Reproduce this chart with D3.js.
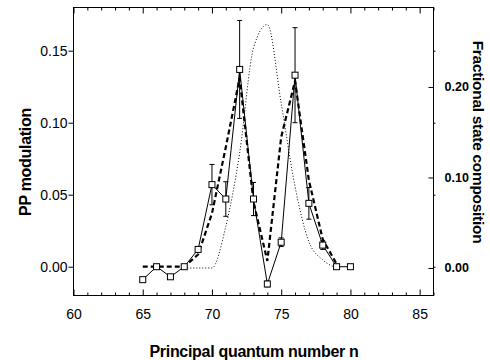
<!DOCTYPE html>
<html>
<head>
<meta charset="utf-8">
<script src="https://cdn.jsdelivr.net/npm/d3@7"></script>
<style>
    body { margin: 0; background: #fff; }
    text { font-family: "Liberation Sans", Arial, sans-serif; fill: #000; }
</style>
</head>
<body>
<svg id="chart" width="490" height="360"></svg>
<script>
// measured PP modulation (left axis) with error bars
const nObs = [65, 66, 67, 68, 69, 70, 71, 72, 73, 74, 75, 76, 77, 78, 79, 80];
const ppMod = [-0.009, 0.000, -0.007, 0.000, 0.012, 0.057, 0.047, 0.137, 0.047, -0.012, 0.017, 0.133, 0.044, 0.015, 0.000, 0.000];
const ppErr = [0, 0, 0, 0, 0.002, 0.014, 0.012, 0.034, 0.0115, 0.002, 0.003, 0.033, 0.011, 0.003, 0, 0];

// model curve (dashed, left axis)
const nModel = [65, 66, 67, 68, 69, 70, 71, 72, 73, 74, 75, 76, 77, 78, 79];
const ppModel = [0, 0, 0, 0, 0.0085, 0.037, 0.083, 0.131, 0.045, 0.004, 0.090, 0.129, 0.060, 0.019, 0.002];

// fractional state composition (dotted, right axis)
const nDist = [68, 69, 70, 71, 72, 73, 74, 75, 76, 77, 78, 79];
const fracState = [0, 0, 0, 0.046, 0.127, 0.243, 0.269, 0.182, 0.090, 0.029, 0.009, 0];

// axis ticks
const xMajor = [60, 65, 70, 75, 80, 85];
const yLeftTicks = [0.00, 0.05, 0.10, 0.15];
const yRightTicks = [0.00, 0.10, 0.20];

function drawChart() {
    const svg = d3.select("#chart");
    const left = 73.5, right = 433.5, top = 7.5, bottom = 295.5;

    const xScale = d3.scaleLinear().domain([60, 86]).range([left, right]);
    const yLeft = d3.scaleLinear().domain([-0.02, 0.18]).range([bottom, top]);
    const yRight = d3.scaleLinear().domain([-0.0304, 0.2878]).range([bottom, top]);

    // bottom axis, ticks pointing inward
    const xMinor = d3.range(60, 87, 1).filter(v => v % 5 !== 0);
    svg.append("g")
        .attr("transform", `translate(0,${bottom})`)
        .call(d3.axisBottom(xScale).tickValues(xMajor).tickSizeInner(-6).tickSizeOuter(0).tickPadding(14).tickFormat(d3.format("d")))
        .call(g => g.select(".domain").remove())
        .call(g => g.selectAll("text").style("font-size", "14px").attr("font-family", null));
    svg.append("g")
        .attr("transform", `translate(0,${bottom})`)
        .call(d3.axisBottom(xScale).tickValues(xMinor).tickSizeInner(-3).tickSizeOuter(0).tickFormat(""))
        .call(g => g.select(".domain").remove());

    // top axis (mirror)
    svg.append("g")
        .attr("transform", `translate(0,${top})`)
        .call(d3.axisTop(xScale).tickValues(xMajor).tickSizeInner(-6).tickSizeOuter(0).tickFormat(""))
        .call(g => g.select(".domain").remove());
    svg.append("g")
        .attr("transform", `translate(0,${top})`)
        .call(d3.axisTop(xScale).tickValues(xMinor).tickSizeInner(-3).tickSizeOuter(0).tickFormat(""))
        .call(g => g.select(".domain").remove());

    // left axis, ticks outward
    svg.append("g")
        .attr("transform", `translate(${left},0)`)
        .call(d3.axisLeft(yLeft).tickValues(yLeftTicks).tickSizeInner(5).tickSizeOuter(0).tickPadding(1).tickFormat(d3.format(".2f")))
        .call(g => g.select(".domain").remove())
        .call(g => g.selectAll("text").style("font-size", "14px").attr("font-family", null));

    // right side: mirrored left ticks + own axis
    svg.append("g")
        .attr("transform", `translate(${right},0)`)
        .call(d3.axisRight(yLeft).tickValues(yLeftTicks).tickSizeInner(2).tickSizeOuter(0).tickFormat(""))
        .call(g => g.select(".domain").remove());
    svg.append("g")
        .attr("transform", `translate(${right},0)`)
        .call(d3.axisRight(yRight).tickValues(yRightTicks).tickSizeInner(-5).tickSizeOuter(0).tickPadding(11).tickFormat(d3.format(".2f")))
        .call(g => g.select(".domain").remove())
        .call(g => g.selectAll("text").style("font-size", "12.5px").style("font-weight", "bold").attr("font-family", null));

    // frame
    svg.append("rect")
        .attr("x", left).attr("y", top)
        .attr("width", right - left).attr("height", bottom - top)
        .attr("fill", "none").attr("stroke", "#000").attr("stroke-width", 1);

    const plot = svg.append("g");

    // dotted state composition
    const distLine = d3.line()
        .x((d, i) => xScale(nDist[i]))
        .y(d => yRight(d))
        .curve(d3.curveMonotoneX);
    plot.append("path")
        .datum(fracState)
        .attr("fill", "none")
        .attr("stroke", "#000")
        .attr("stroke-width", 1)
        .attr("stroke-dasharray", "1,2")
        .attr("d", distLine);

    // dashed model
    const modelLine = d3.line()
        .x((d, i) => xScale(nModel[i]))
        .y(d => yLeft(d));
    plot.append("path")
        .datum(ppModel)
        .attr("fill", "none")
        .attr("stroke", "#000")
        .attr("stroke-width", 2.2)
        .attr("stroke-dasharray", "5,3")
        .attr("d", modelLine);

    // solid line through the data
    const dataLine = d3.line()
        .x((d, i) => xScale(nObs[i]))
        .y(d => yLeft(d));
    plot.append("path")
        .datum(ppMod)
        .attr("fill", "none")
        .attr("stroke", "#000")
        .attr("stroke-width", 1)
        .attr("d", dataLine);

    // error bars
    const errs = nObs.map((n, i) => ({ n: n, v: ppMod[i], e: ppErr[i] })).filter(d => d.e > 0);
    const eb = plot.selectAll(".eb").data(errs).enter().append("g").attr("class", "eb");
    eb.append("line")
        .attr("x1", d => xScale(d.n)).attr("x2", d => xScale(d.n))
        .attr("y1", d => yLeft(d.v - d.e)).attr("y2", d => yLeft(d.v + d.e))
        .attr("stroke", "#000").attr("stroke-width", 1);
    [-1, 1].forEach(s => {
        eb.append("line")
            .attr("x1", d => xScale(d.n) - 2.5).attr("x2", d => xScale(d.n) + 2.5)
            .attr("y1", d => yLeft(d.v + s * d.e)).attr("y2", d => yLeft(d.v + s * d.e))
            .attr("stroke", "#000").attr("stroke-width", 1);
    });

    // square markers
    plot.selectAll(".pt")
        .data(ppMod)
        .enter().append("rect")
        .attr("class", "pt")
        .attr("x", (d, i) => xScale(nObs[i]) - 3)
        .attr("y", d => yLeft(d) - 3)
        .attr("width", 6).attr("height", 6)
        .attr("fill", "#fff")
        .attr("stroke", "#000")
        .attr("stroke-width", 1);

    // axis titles
    svg.append("text")
        .attr("transform", "translate(31,162) rotate(-90)")
        .attr("text-anchor", "middle")
        .style("font-size", "16px")
        .style("font-weight", "bold")
        .style("letter-spacing", "-0.3px")
        .text("PP modulation");

    svg.append("text")
        .attr("transform", "translate(473,142) rotate(90)")
        .attr("text-anchor", "middle")
        .style("font-size", "15.5px")
        .style("font-weight", "bold")
        .style("letter-spacing", "-0.3px")
        .text("Fractional state composition");

    svg.append("text")
        .attr("x", 254)
        .attr("y", 357)
        .attr("text-anchor", "middle")
        .style("font-size", "16px")
        .style("font-weight", "bold")
        .style("letter-spacing", "-0.3px")
        .text("Principal quantum number n");
}

drawChart();
</script>
</body>
</html>
